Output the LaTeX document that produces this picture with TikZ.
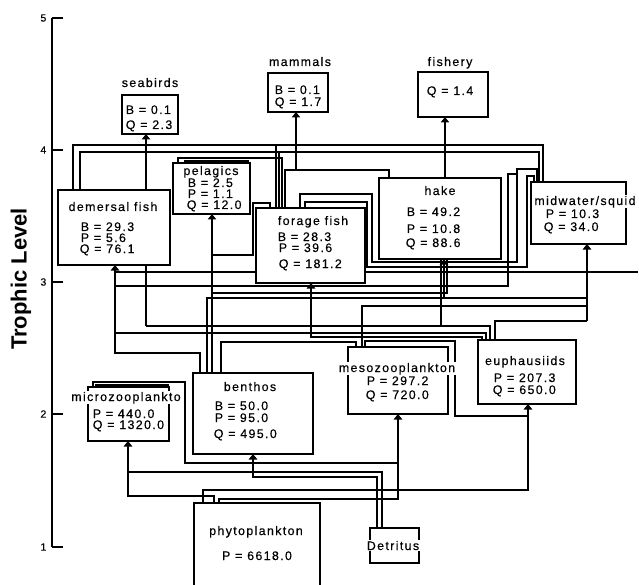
\documentclass[tikz,border=0pt]{standalone}
\usepackage{fontspec}
\setmainfont{Liberation Sans}
\newfontfamily\boxfont{Liberation Sans}[LetterSpace=11,FakeBold=0.35]
\usetikzlibrary{arrows.meta}
\pgfdeclarelayer{bg}
\pgfsetlayers{bg,main}
\tikzset{
  box/.style={draw, fill=white, line width=1.5pt, inner sep=0pt, outer sep=0pt, anchor=north west},
  ttl/.style={font=\boxfont\fontsize{12.4}{12}\selectfont, anchor=base, inner sep=0.6pt, fill=white},
  val/.style={font=\boxfont\fontsize{12.4}{12}\selectfont, anchor=base west, inner sep=0.6pt, fill=white},
  flow/.style={line width=1.05pt},
  thk/.style={line width=2pt},
  arr/.style={-{Triangle[width=8.5pt,length=5.5pt]}},
  ticklab/.style={font=\boxfont\fontsize{10.5}{10}\selectfont, anchor=east, inner sep=0pt},
}
\begin{document}
\begin{tikzpicture}[x=1pt,y=-1pt]
\useasboundingbox (0,0) rectangle (639,585);
\clip (0,0) rectangle (639,585);
% axis
\draw[line width=1.4pt] (52,18) -- (52,547);
\foreach \yy/\lab in {18/5,150/4,282/3,414/2,547/1}{
  \draw[line width=1.1pt] (52,\yy) -- (63,\yy);
  \node[ticklab] (tick\lab) at (46.5,\yy) {\lab};
}
\node[rotate=90, font=\bfseries\fontsize{22}{22}\selectfont, inner sep=0pt] (ylab) at (21,279) {Trophic Level};

% boxes
\node[box, minimum width=56pt, minimum height=39pt] (seabirds) at (122,95) {};
\node[box, minimum width=60pt, minimum height=39pt] (mammals) at (268,73) {};
\node[box, minimum width=70pt, minimum height=45pt] (fishery) at (418,72) {};
\node[box, minimum width=112pt, minimum height=75pt] (demersal) at (58,190) {};
\node[box, minimum width=77pt, minimum height=51pt] (pelagics) at (173,163) {};
\node[box, minimum width=109pt, minimum height=75pt] (forage) at (256,208) {};
\node[box, minimum width=122pt, minimum height=81pt] (hake) at (379,178) {};
\node[box, minimum width=95pt, minimum height=62pt] (midwater) at (531,182) {};
\node[box, minimum width=81pt, minimum height=54pt] (microzoo) at (88,387) {};
\node[box, minimum width=120pt, minimum height=81pt] (benthos) at (193,373) {};
\node[box, minimum width=100pt, minimum height=67pt] (mesozoo) at (348,347) {};
\node[box, minimum width=98pt, minimum height=64pt] (euph) at (478,340) {};
\node[box, minimum width=126pt, minimum height=95pt] (phyto) at (194,503) {};
\node[box, minimum width=49pt, minimum height=35pt] (detritus) at (370,528) {};

% texts
\node[ttl] (tsea) at (150,87) {seabirds};
\node[val] (tsea1) at (125,114) {B = 0.1};
\node[val] (tsea2) at (125,129) {Q = 2.3};
\node[ttl] (tmam) at (300,66) {mammals};
\node[val] (tmam1) at (274,94) {B = 0.1};
\node[val] (tmam2) at (274,106) {Q = 1.7};
\node[ttl] (tfis) at (450,66) {fishery};
\node[val] (tfis1) at (426,95) {Q = 1.4};
\node[ttl] (tdem) at (113,211) {demersal fish};
\node[val] (tdem1) at (80,231) {B = 29.3};
\node[val] (tdem2) at (80,242) {P = 5.6};
\node[val] (tdem3) at (79,253) {Q = 76.1};
\node[ttl] (tpel) at (211,175) {pelagics};
\node[val] (tpel1) at (187,187) {B = 2.5};
\node[val] (tpel2) at (187,198) {P = 1.1};
\node[val] (tpel3) at (186,209) {Q = 12.0};
\node[ttl] (tfor) at (313,225) {forage fish};
\node[val] (tfor1) at (277,241) {B = 28.3};
\node[val] (tfor2) at (278,252) {P = 39.6};
\node[val] (tfor3) at (278,268) {Q = 181.2};
\node[ttl] (thak) at (440,195) {hake};
\node[val] (thak1) at (406,216) {B = 49.2};
\node[val] (thak2) at (406,233) {P = 10.8};
\node[val] (thak3) at (405,247) {Q = 88.6};
\node[ttl] (tmid) at (585,205) {midwater/squid};
\node[val] (tmid1) at (545,218) {P = 10.3};
\node[val] (tmid2) at (543,231) {Q = 34.0};
\node[ttl] (tmic) at (126,401) {microzooplankto};
\node[val] (tmic1) at (92,418) {P = 440.0};
\node[val] (tmic2) at (92,429) {Q = 1320.0};
\node[ttl] (tben) at (250,391) {benthos};
\node[val] (tben1) at (214,410) {B = 50.0};
\node[val] (tben2) at (214,422) {P = 95.0};
\node[val] (tben3) at (213,438) {Q = 495.0};
\node[ttl] (tmes) at (397,372) {mesozooplankton};
\node[val] (tmes1) at (366,385) {P = 297.2};
\node[val] (tmes2) at (365,399) {Q = 720.0};
\node[ttl] (teup) at (525,365) {euphausiids};
\node[val] (teup1) at (493,382) {P = 207.3};
\node[val] (teup2) at (492,394) {Q = 650.0};
\node[ttl] (tphy) at (256,535) {phytoplankton};
\node[ttl] (tphy1) at (257,560) {P = 6618.0};
\node[ttl] (tdet) at (393,550) {Detritus};

\begin{pgfonlayer}{bg}
% upper buses
\draw[flow] (73,0 |- demersal.north) |- (543,145) -- (543,0 |- midwater.north);
\draw[thk] (146,145) -- (445,145);
\draw[flow] (80,0 |- demersal.north) |- (539,152) -- (539,0 |- midwater.north);
\draw[flow,arr] (445,0 |- hake.north) -- (445,0 |- fishery.south);
\draw[flow,arr] (296,170) -- (296,0 |- mammals.south);
\draw[flow] (285,0 |- forage.north) |- (389,170) -- (389,0 |- hake.north);
\draw[flow] (276,0 |- forage.north) -- (276,145);
\draw[flow] (279,0 |- forage.north) -- (279,152);
\draw[flow] (282,0 |- forage.north) |- (178,158) -- (178,0 |- pelagics.north);
\draw[flow] (185,0 |- pelagics.north) |- (248,161) -- (248,0 |- pelagics.north);
\draw[flow] (270,0 |- forage.north) |- (253,203) |- (212,255);
\draw[flow,arr] (212,0 |- benthos.north) -- (212,0 |- pelagics.south);
\draw[flow] (300,0 |- forage.north) |- (372,194) |- (517,262) |- (537,169) -- (537,0 |- midwater.north);
\draw[flow] (305,0 |- forage.north) |- (367,202) |- (527,267) |- (534,176) -- (534,0 |- midwater.north);
% middle band
\draw[flow,arr] (146,326) -- (146,0 |- seabirds.south);
\draw[thk] (146,326) -| (490,0 |- euph.north);
\draw[flow,arr] (200,0 |- benthos.north) |- (115,353) -- (115,0 |- demersal.south);
\draw[flow] (115,272) -- (638,272);
\draw[flow] (115,286) -| (508,174) -- (517,174);
\draw[flow] (212,293) -| (447,0 |- hake.south);
\draw[flow] (207,0 |- benthos.north) |- (587,298);
\draw[flow,arr] (444,298) -- (444,0 |- hake.south);
\draw[flow] (441,326) -- (441,0 |- hake.south);
\draw[flow] (362,0 |- mesozoo.north) |- (587,306);
\draw[flow] (495,0 |- euph.north) |- (587,321);
\draw[flow,arr] (587,321) -- (587,0 |- midwater.south);
\draw[flow] (115,333) -| (486,0 |- euph.north);
\draw[flow,arr] (482,0 |- euph.north) |- (311,337) -- (311,0 |- forage.south);
\draw[flow] (221,0 |- benthos.north) |- (356,342) -- (356,0 |- mesozoo.north);
\draw[flow] (365,0 |- mesozoo.north) |- (455,341) |- (528,416);
% lower
\draw[flow,arr] (203,0 |- phyto.north) |- (528,490) -- (528,0 |- euph.south);
\draw[flow,arr] (219,0 |- phyto.north) |- (398,499) -- (398,0 |- mesozoo.south);
\draw[flow,arr] (214,0 |- phyto.north) |- (128,496) -- (128,0 |- microzoo.south);
\draw[flow] (382,0 |- detritus.north) |- (128,472);
\draw[flow,arr] (377,0 |- detritus.north) |- (253,477) -- (253,0 |- benthos.south);
\draw[flow] (93,0 |- microzoo.north) |- (185,382) |- (398,463);
\draw[flow] (96,0 |- microzoo.north) |- (168,385) -- (168,0 |- microzoo.north);
\end{pgfonlayer}
\end{tikzpicture}
\end{document}
